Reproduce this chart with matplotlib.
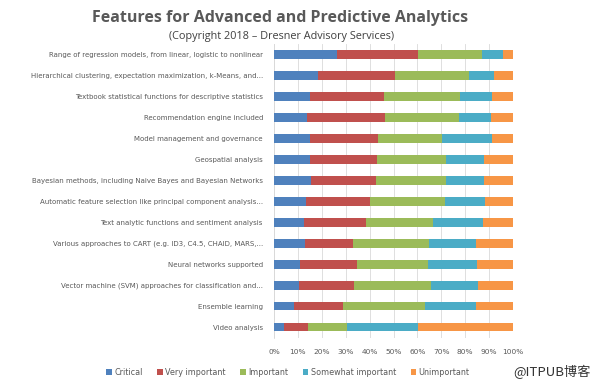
import matplotlib.pyplot as plt
import numpy as np

features = [
    "Range of regression models, from linear, logistic to nonlinear",
    "Hierarchical clustering, expectation maximization, k-Means, and...",
    "Textbook statistical functions for descriptive statistics",
    "Recommendation engine included",
    "Model management and governance",
    "Geospatial analysis",
    "Bayesian methods, including Naive Bayes and Bayesian Networks",
    "Automatic feature selection like principal component analysis...",
    "Text analytic functions and sentiment analysis",
    "Various approaches to CART (e.g. ID3, C4.5, CHAID, MARS,...",
    "Neural networks supported",
    "Vector machine (SVM) approaches for classification and...",
    "Ensemble learning",
    "Video analysis",
]

levels = ["Critical", "Very important", "Important", "Somewhat important", "Unimportant"]
colors = ["#4F81BD", "#C0504D", "#9BBB59", "#4BACC6", "#F79646"]

# percentages per level, one value per feature (top to bottom)
critical = [26.2, 18.5, 15.1, 13.9, 14.9, 15.1, 15.3, 13.5, 12.4, 12.8, 10.9, 10.3, 8.5, 4.2]
very_important = [34.2, 32.3, 30.9, 32.7, 28.8, 27.9, 27.4, 26.7, 26.1, 20.3, 23.7, 23.2, 20.2, 9.9]
important = [26.5, 30.8, 32.0, 30.8, 26.6, 29.1, 29.3, 31.5, 28.2, 31.8, 29.8, 32.3, 34.5, 16.6]
somewhat = [9.1, 10.6, 13.1, 13.5, 20.8, 15.9, 16.0, 16.7, 20.7, 19.6, 20.5, 19.4, 21.3, 29.6]
unimportant = [4.0, 7.8, 8.9, 9.1, 8.9, 12.0, 12.0, 11.6, 12.6, 15.5, 15.1, 14.8, 15.5, 39.7]

series = [critical, very_important, important, somewhat, unimportant]

fig = plt.figure(figsize=(6, 3.91), dpi=100)
ax = fig.add_axes([274 / 600, 1 - 337.5 / 391, 239 / 600, (337.5 - 44.2) / 391])

y = np.arange(len(features))
left = np.zeros(len(features))
for name, vals, c in zip(levels, series, colors):
    ax.barh(y, vals, left=left, height=0.42, color=c, label=name, zorder=3)
    left += np.array(vals)

ax.set_ylim(len(features) - 0.5, -0.5)
ax.set_xlim(0, 100)
ax.set_xticks(np.arange(0, 101, 10))
ax.set_xticklabels([f"{t}%" for t in range(0, 101, 10)])
ax.set_yticks(y)
ax.set_yticklabels(features)
ax.tick_params(axis="both", length=0, labelsize=5.0, labelcolor="#595959")
ax.tick_params(axis="x", pad=8, labelsize=5.3)
ax.tick_params(axis="y", pad=8)
ax.xaxis.grid(True, color="#D9D9D9", linewidth=0.6, zorder=0)
for s in ["top", "right", "bottom"]:
    ax.spines[s].set_visible(False)
ax.spines["left"].set_color("#D9D9D9")
ax.spines["left"].set_linewidth(0.6)

fig.text(0.467, 0.955, "Features for Advanced and Predictive Analytics", ha="center", va="center",
         fontsize=11.5, fontweight="bold", color="#595959", family="Open Sans")
fig.text(0.47, 0.907, "(Copyright 2018 \u2013 Dresner Advisory Services)", ha="center", va="center",
         fontsize=7.8, color="#404040", family="Open Sans")

leg = fig.legend(loc="center left", bbox_to_anchor=(0.165, 0.048), ncol=5, frameon=False,
                 fontsize=5.8, handlelength=0.7, handleheight=0.7, handletextpad=0.3,
                 columnspacing=1.8, labelcolor="#595959")

fig.text(0.985, 0.048, "@ITPUB博客", ha="right", va="center", fontsize=9.5, color="#333333",
         family=["Noto Sans CJK SC", "DejaVu Sans"])

fig.savefig("out.png", dpi=100)
